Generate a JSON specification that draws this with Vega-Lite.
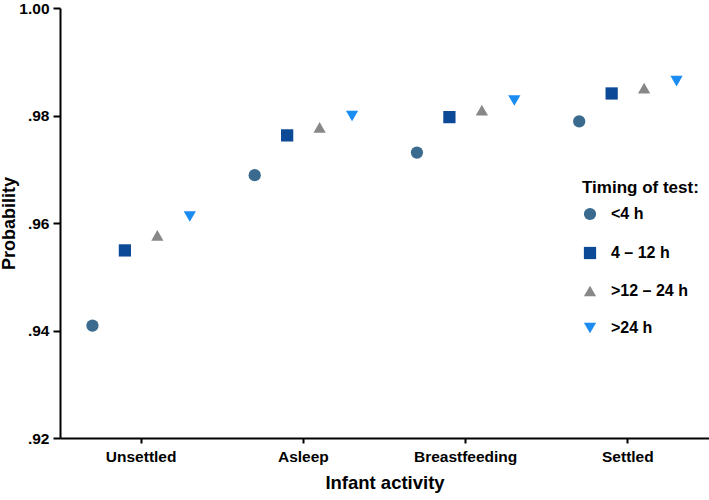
{
  "$schema": "https://vega.github.io/schema/vega-lite/v6.json",
  "width": 649,
  "height": 430,
  "autosize": "none",
  "padding": {"left": 60, "top": 8, "right": 0, "bottom": 62},
  "background": "white",
  "config": {
    "view": {"stroke": null},
    "font": "Liberation Sans"
  },
  "data": {
    "values": [
      {"activity": "Unsettled", "timing": "<4 h", "p": 0.9409},
      {"activity": "Unsettled", "timing": "4 – 12 h", "p": 0.9549},
      {"activity": "Unsettled", "timing": ">12 – 24 h", "p": 0.9577},
      {"activity": "Unsettled", "timing": ">24 h", "p": 0.9612},
      {"activity": "Asleep", "timing": "<4 h", "p": 0.9689},
      {"activity": "Asleep", "timing": "4 – 12 h", "p": 0.9763},
      {"activity": "Asleep", "timing": ">12 – 24 h", "p": 0.9778},
      {"activity": "Asleep", "timing": ">24 h", "p": 0.9799},
      {"activity": "Breastfeeding", "timing": "<4 h", "p": 0.9731},
      {"activity": "Breastfeeding", "timing": "4 – 12 h", "p": 0.9797},
      {"activity": "Breastfeeding", "timing": ">12 – 24 h", "p": 0.9810},
      {"activity": "Breastfeeding", "timing": ">24 h", "p": 0.9828},
      {"activity": "Settled", "timing": "<4 h", "p": 0.9789},
      {"activity": "Settled", "timing": "4 – 12 h", "p": 0.9841},
      {"activity": "Settled", "timing": ">12 – 24 h", "p": 0.9851},
      {"activity": "Settled", "timing": ">24 h", "p": 0.9864}
    ]
  },
  "mark": {"type": "point", "filled": true, "opacity": 1, "size": 150},
  "encoding": {
    "x": {
      "field": "activity",
      "type": "nominal",
      "sort": ["Unsettled", "Asleep", "Breastfeeding", "Settled"],
      "scale": {"type": "band", "paddingInner": 0, "paddingOuter": 0},
      "axis": {
        "title": "Infant activity",
        "titleFontSize": 18.5,
        "titleFontWeight": "bold",
        "titleColor": "black",
        "titlePadding": 9,
        "labelAngle": 0,
        "labelFontSize": 15.5,
        "labelFontWeight": "bold",
        "labelColor": "black",
        "labelPadding": 6,
        "domainColor": "black",
        "domainWidth": 2,
        "tickColor": "black",
        "tickWidth": 2,
        "tickSize": 5,
        "grid": false
      }
    },
    "xOffset": {
      "field": "timing",
      "type": "nominal",
      "scale": {"type": "point", "padding": 1, "domain": ["<4 h", "4 – 12 h", ">12 – 24 h", ">24 h"]}
    },
    "y": {
      "field": "p",
      "type": "quantitative",
      "scale": {"domain": [0.92, 1.0], "nice": false, "zero": false},
      "axis": {
        "title": "Probability",
        "titleFontSize": 18,
        "titleFontWeight": "bold",
        "titleColor": "black",
        "titleX": -42,
        "titleBaseline": "bottom",
        "values": [0.92, 0.94, 0.96, 0.98, 1.0],
        "labelExpr": "datum.value >= 1 ? '1.00' : replace(format(datum.value, '.2f'), '0.', '.')",
        "labelFontSize": 15.5,
        "labelFontWeight": "bold",
        "labelColor": "black",
        "labelPadding": 4,
        "domainColor": "black",
        "domainWidth": 2,
        "tickColor": "black",
        "tickWidth": 2,
        "tickSize": 7,
        "grid": false
      }
    },
    "color": {
      "field": "timing",
      "type": "nominal",
      "scale": {
        "domain": ["<4 h", "4 – 12 h", ">12 – 24 h", ">24 h"],
        "range": ["#3a6b8f", "#0c4a98", "#888888", "#1a8cf2"]
      },
      "legend": {
        "title": "Timing of test:",
        "orient": "none",
        "legendX": 522,
        "legendY": 172,
        "padding": 0,
        "titleFontSize": 17,
        "titleFontWeight": "bold",
        "titleColor": "black",
        "titlePadding": 9,
        "labelFontSize": 16,
        "labelFontWeight": "bold",
        "labelColor": "black",
        "labelOffset": 13,
        "symbolSize": 150,
        "symbolOpacity": 1,
        "rowPadding": 19
      }
    },
    "shape": {
      "field": "timing",
      "type": "nominal",
      "scale": {
        "domain": ["<4 h", "4 – 12 h", ">12 – 24 h", ">24 h"],
        "range": ["circle", "square", "triangle-up", "triangle-down"]
      },
      "legend": {
        "title": "Timing of test:",
        "orient": "none",
        "legendX": 522,
        "legendY": 172,
        "padding": 0,
        "titleFontSize": 17,
        "titleFontWeight": "bold",
        "titleColor": "black",
        "titlePadding": 9,
        "labelFontSize": 16,
        "labelFontWeight": "bold",
        "labelColor": "black",
        "labelOffset": 13,
        "symbolSize": 150,
        "symbolOpacity": 1,
        "rowPadding": 19
      }
    }
  }
}
